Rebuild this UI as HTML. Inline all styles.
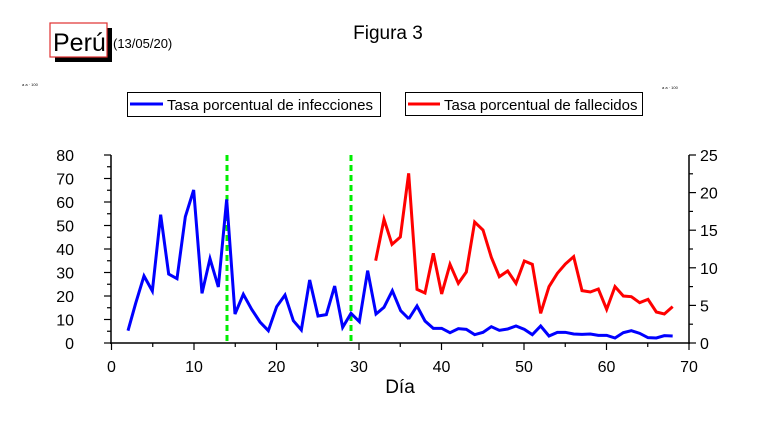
<!DOCTYPE html>
<html><head><meta charset="utf-8"><style>
body{margin:0;background:#fff;}
svg{display:block;font-family:"Liberation Sans",sans-serif;}
</style></head><body>
<svg width="769" height="423" viewBox="0 0 769 423">
<rect width="769" height="423" fill="#fff"/>
<!-- Peru box -->
<rect x="55" y="28" width="57" height="34" fill="#000"/>
<rect x="50" y="23" width="57" height="34" fill="#fff" stroke="#e03030" stroke-width="1.2"/>
<text x="53" y="51" font-size="25">Perú</text>
<text x="113" y="48" font-size="13">(13/05/20)</text>
<text x="388" y="39" font-size="19" text-anchor="middle">Figura 3</text>
<text x="22" y="86" font-size="4">a a · 100</text>
<text x="662" y="89" font-size="4">a a · 100</text>
<!-- legends -->
<rect x="127.5" y="92.5" width="253" height="24" fill="#fff" stroke="#000"/>
<line x1="130" y1="104" x2="163" y2="104" stroke="#0000ff" stroke-width="3"/>
<text x="167" y="110" font-size="15">Tasa porcentual de infecciones</text>
<rect x="405.5" y="92.5" width="237" height="23" fill="#fff" stroke="#000"/>
<line x1="408" y1="104" x2="440" y2="104" stroke="#ff0000" stroke-width="3"/>
<text x="444" y="110" font-size="15">Tasa porcentual de fallecidos</text>
<!-- axes -->
<g stroke="#000" stroke-width="1.5" fill="none">
<line x1="111" y1="155" x2="111" y2="344"/>
<line x1="689" y1="155" x2="689" y2="344"/>
<line x1="110" y1="343" x2="690" y2="343"/>
</g>
<g stroke="#000" stroke-width="1.2">
<!-- left ticks -->
<line x1="104" y1="155" x2="111" y2="155"/><line x1="104" y1="178.5" x2="111" y2="178.5"/>
<line x1="104" y1="202" x2="111" y2="202"/><line x1="104" y1="225.5" x2="111" y2="225.5"/>
<line x1="104" y1="249" x2="111" y2="249"/><line x1="104" y1="272.5" x2="111" y2="272.5"/>
<line x1="104" y1="296" x2="111" y2="296"/><line x1="104" y1="319.5" x2="111" y2="319.5"/>
<line x1="104" y1="343" x2="111" y2="343"/>
<line x1="107" y1="166.75" x2="111" y2="166.75"/><line x1="107" y1="190.25" x2="111" y2="190.25"/>
<line x1="107" y1="213.75" x2="111" y2="213.75"/><line x1="107" y1="237.25" x2="111" y2="237.25"/>
<line x1="107" y1="260.75" x2="111" y2="260.75"/><line x1="107" y1="284.25" x2="111" y2="284.25"/>
<line x1="107" y1="307.75" x2="111" y2="307.75"/><line x1="107" y1="331.25" x2="111" y2="331.25"/>
<!-- right ticks -->
<line x1="689" y1="155" x2="696" y2="155"/><line x1="689" y1="192.6" x2="696" y2="192.6"/>
<line x1="689" y1="230.2" x2="696" y2="230.2"/><line x1="689" y1="267.8" x2="696" y2="267.8"/>
<line x1="689" y1="305.4" x2="696" y2="305.4"/><line x1="689" y1="343" x2="696" y2="343"/>
<line x1="689" y1="173.8" x2="693" y2="173.8"/><line x1="689" y1="211.4" x2="693" y2="211.4"/>
<line x1="689" y1="249" x2="693" y2="249"/><line x1="689" y1="286.6" x2="693" y2="286.6"/>
<line x1="689" y1="324.2" x2="693" y2="324.2"/>
<!-- x ticks -->
<line x1="111.5" y1="343" x2="111.5" y2="350"/><line x1="194" y1="343" x2="194" y2="350"/>
<line x1="276.5" y1="343" x2="276.5" y2="350"/><line x1="359" y1="343" x2="359" y2="350"/>
<line x1="441.5" y1="343" x2="441.5" y2="350"/><line x1="524" y1="343" x2="524" y2="350"/>
<line x1="606.5" y1="343" x2="606.5" y2="350"/><line x1="689" y1="343" x2="689" y2="350"/>
<line x1="152.75" y1="343" x2="152.75" y2="347"/><line x1="235.25" y1="343" x2="235.25" y2="347"/>
<line x1="317.75" y1="343" x2="317.75" y2="347"/><line x1="400.25" y1="343" x2="400.25" y2="347"/>
<line x1="482.75" y1="343" x2="482.75" y2="347"/><line x1="565.25" y1="343" x2="565.25" y2="347"/>
<line x1="647.75" y1="343" x2="647.75" y2="347"/>
</g>
<g font-size="16" text-anchor="end">
<text x="74" y="161">80</text><text x="74" y="184.5">70</text><text x="74" y="208">60</text>
<text x="74" y="231.5">50</text><text x="74" y="255">40</text><text x="74" y="278.5">30</text>
<text x="74" y="302">20</text><text x="74" y="325.5">10</text><text x="74" y="349">0</text>
</g>
<g font-size="16" text-anchor="start">
<text x="700" y="161">25</text><text x="700" y="198.6">20</text><text x="700" y="236.2">15</text>
<text x="700" y="273.8">10</text><text x="700" y="311.4">5</text><text x="700" y="349">0</text>
</g>
<g font-size="16" text-anchor="middle">
<text x="111.5" y="372">0</text><text x="194" y="372">10</text><text x="276.5" y="372">20</text>
<text x="359" y="372">30</text><text x="441.5" y="372">40</text><text x="524" y="372">50</text>
<text x="606.5" y="372">60</text><text x="689" y="372">70</text>
</g>
<text x="400" y="393" font-size="19" text-anchor="middle">Día</text>
<!-- green dashed -->
<g stroke="#00ee00" stroke-width="3" stroke-dasharray="6,4">
<line x1="227" y1="155" x2="227" y2="343"/>
<line x1="351" y1="155" x2="351" y2="343"/>
</g>
<!-- blue series -->
<g transform="translate(100,140) scale(0.3333333)">
<polyline fill="none" stroke="#0000ff" stroke-width="9" stroke-linejoin="miter" points="84,572 107,490 132,408 157,453 182,224 206,402 231,416 256,230 281,150 306,460 330,356 355,441 380,178 405,522 430,463 455,508 480,546 505,572 530,500 555,465 580,542 604,570 629,420 654,528 679,524 704,438 728,562 753,520 778,545 803,392 828,522 852,502 877,452 902,512 927,537"/>
</g>
<g transform="translate(350,140) scale(0.3333333)">
<polyline fill="none" stroke="#0000ff" stroke-width="9" points="176,537 201,498 225,543 250,565 275,565 300,578 325,566 349,568 374,584 399,577 424,560 448,571 473,567 498,558 523,568 547,584 572,558 597,588 622,577 646,577 671,582 696,583 721,582 745,586 770,586 795,594 820,578 844,572 869,580 894,593 919,594 943,587 968,588"/>
<polyline fill="none" stroke="#ff0000" stroke-width="9" points="77,362 102,238 126,313 151,291 176,100 201,448 225,459 250,340 275,462 300,373 325,430 349,396 374,246 399,270 424,352 448,410 473,393 498,430 523,363 547,373 572,520 597,440 622,400 646,372 671,350 696,452 721,456 745,447 770,508 795,440 820,468 844,470 869,488 894,478 919,516 943,522 968,500"/>
</g>
</svg>
</body></html>
